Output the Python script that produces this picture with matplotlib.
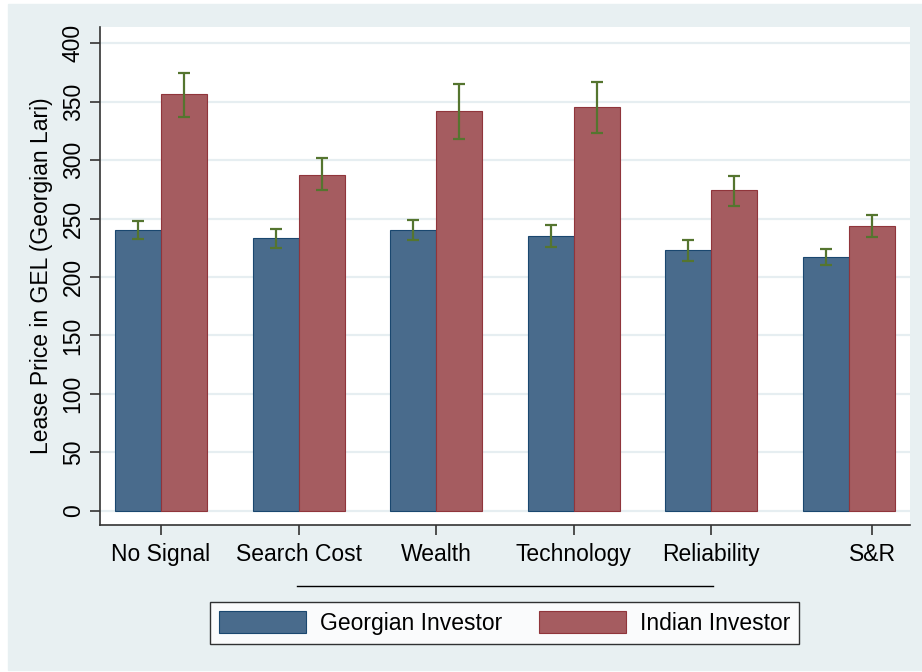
import numpy as np
import matplotlib.pyplot as plt
from matplotlib.patches import Rectangle
from matplotlib.lines import Line2D

plt.rcParams['font.family'] = ['Liberation Sans', 'DejaVu Sans']

categories = ["No Signal", "Search Cost", "Wealth", "Technology", "Reliability", "S&R"]
georgian = [240.5, 233, 240, 235, 223, 217]
georgian_lo = [232.5, 225, 231.5, 226, 214, 210.5]
georgian_hi = [248, 241, 248.5, 244.5, 232, 224]
indian = [356, 287.5, 341.5, 345, 274, 243.5]
indian_lo = [337, 274, 318, 323, 261, 234]
indian_hi = [374, 301.5, 365, 366.5, 286.5, 253]

navy = "#496b8c"
maroon = "#a55c60"
green = "#55752f"
bg = "#e8f0f2"
fs = 16.5

fig = plt.figure(figsize=(9.22, 6.72), dpi=100, facecolor="white")
fig.add_artist(Rectangle((8 / 922, 0.003), 1, 1 - 4 / 672 - 0.003,
                         transform=fig.transFigure, color=bg, zorder=-10))
ax = fig.add_axes([100 / 922, 1 - 525 / 672, 810 / 922, 498 / 672])
ax.set_facecolor("white")

x = np.arange(len(categories))
w = 0.334
ax.bar(x - w / 2, georgian, w, color=navy, edgecolor="#1a476f", linewidth=0.8,
       label="Georgian Investor", zorder=2)
ax.bar(x + w / 2, indian, w, color=maroon, edgecolor="#90353b", linewidth=0.8,
       label="Indian Investor", zorder=2)

g = np.array(georgian)
i = np.array(indian)
ax.errorbar(x - w / 2, g, yerr=[g - np.array(georgian_lo), np.array(georgian_hi) - g],
            fmt="none", ecolor=green, elinewidth=1.6, capsize=4.5, capthick=1.6, zorder=3)
ax.errorbar(x + w / 2, i, yerr=[i - np.array(indian_lo), np.array(indian_hi) - i],
            fmt="none", ecolor=green, elinewidth=1.6, capsize=4.5, capthick=1.6, zorder=3)

ax.set_xlim(-0.443, 5.443)
ax.set_ylim(-12, 413.7)
ax.set_yticks(np.arange(0, 401, 50))
ax.yaxis.grid(True, color="#e6eef1", linewidth=1.6, zorder=0)
ax.set_axisbelow(True)

ticks = list(x.astype(float))
ticks[-1] += 0.167
ax.set_xticks(ticks)
ax.set_xticklabels(categories, fontsize=fs)
for lab in ax.get_yticklabels():
    lab.set_rotation(90)
    lab.set_va("center")
ax.tick_params(axis="y", labelsize=fs, length=7, width=1.2, color="#333333", pad=4)
ax.tick_params(axis="x", length=7, width=1.2, color="#333333", pad=6)
ax.set_ylabel("Lease Price in GEL (Georgian Lari)", fontsize=fs, labelpad=6)

for s in ["top", "right"]:
    ax.spines[s].set_visible(False)
for s in ["left", "bottom"]:
    ax.spines[s].set_linewidth(1.2)
    ax.spines[s].set_color("#333333")

fig.add_artist(Line2D([297 / 922, 713 / 922], [1 - 586 / 672] * 2,
                      transform=fig.transFigure, color="black", linewidth=1))

leg = fig.legend(loc="center", bbox_to_anchor=(504.5 / 922, 1 - 623 / 672), ncol=2,
                 fontsize=fs, frameon=True, fancybox=False, edgecolor="black",
                 handlelength=3.8, handleheight=1.05, handletextpad=0.6,
                 columnspacing=1.6, borderpad=0.4, borderaxespad=0)
leg.get_frame().set_linewidth(1.0)

fig.savefig("out.png", dpi=100, facecolor=fig.get_facecolor())
